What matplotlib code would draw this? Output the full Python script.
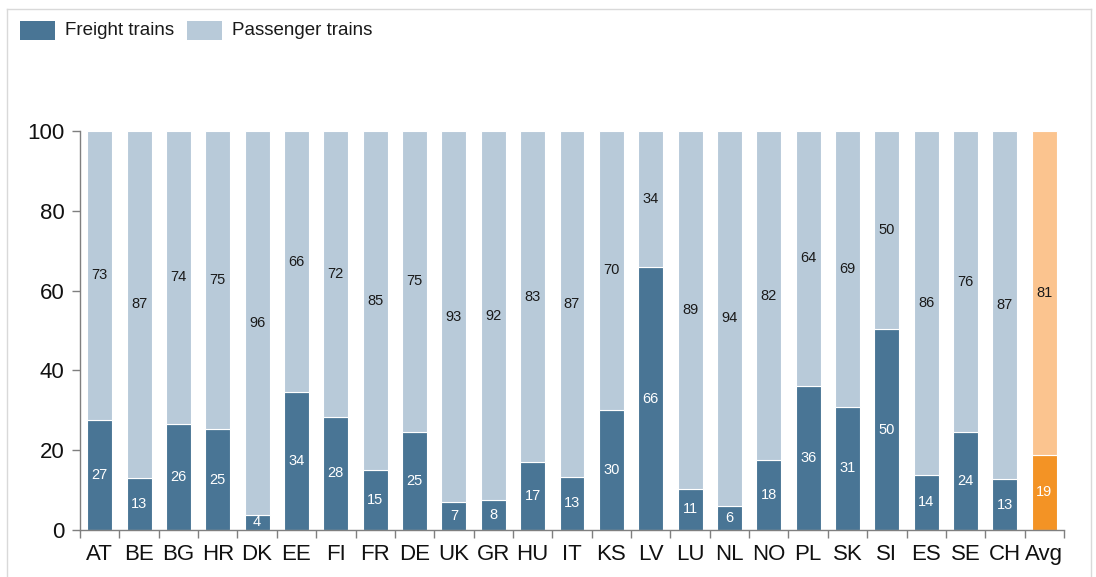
import matplotlib
matplotlib.use("Agg")
import matplotlib.pyplot as plt
from matplotlib.patches import Rectangle
from matplotlib.lines import Line2D
import numpy as np

# ---- data ----
categories = ["AT", "BE", "BG", "HR", "DK", "EE", "FI", "FR", "DE", "UK", "GR", "HU",
              "IT", "KS", "LV", "LU", "NL", "NO", "PL", "SK", "SI", "ES", "SE", "CH", "Avg"]
freight_share = [27.6, 13.1, 26.6, 25.3, 3.8, 34.5, 28.4, 15.0, 24.6, 6.9, 7.5, 17.0,
                 13.4, 30.2, 65.8, 10.4, 6.1, 17.5, 36.1, 30.9, 50.3, 13.8, 24.5, 12.7, 18.8]
freight_labels = [27, 13, 26, 25, 4, 34, 28, 15, 25, 7, 8, 17,
                  13, 30, 66, 11, 6, 18, 36, 31, 50, 14, 24, 13, 19]
passenger_labels = [73, 87, 74, 75, 96, 66, 72, 85, 75, 93, 92, 83,
                    87, 70, 34, 89, 94, 82, 64, 69, 50, 86, 76, 87, 81]
total_share = 100
series_names = ["Freight trains", "Passenger trains"]
y_ticks = [0, 20, 40, 60, 80, 100]

# ---- style ----
FREIGHT = "#497595"
PASSENGER = "#b8cad9"
AVG_FREIGHT = "#f39325"
AVG_PASSENGER = "#fbc48f"
plt.rcParams["font.family"] = ["Liberation Sans", "DejaVu Sans"]

W, H = 1096, 577
fig = plt.figure(figsize=(W / 100, H / 100), dpi=100)
fig.patch.set_facecolor("white")

ax = fig.add_axes([80 / W, 1 - 530 / H, (1064 - 80) / W, (530 - 131) / H])

x = np.arange(len(categories))
freight = np.array(freight_share)
passenger = total_share - freight
is_avg = np.array([c == "Avg" for c in categories])
fcols = [AVG_FREIGHT if a else FREIGHT for a in is_avg]
pcols = [AVG_PASSENGER if a else PASSENGER for a in is_avg]

bw = 0.635
ax.bar(x, freight, width=bw, color=fcols, edgecolor="white", linewidth=0.8, zorder=2)
ax.bar(x, passenger, bottom=freight, width=bw, color=pcols, edgecolor="white",
       linewidth=0.8, zorder=2)

for xi, f, p, fl, pl in zip(x, freight, passenger, freight_labels, passenger_labels):
    ax.text(xi, f / 2, str(fl), ha="center", va="center", color="white",
            fontsize=10.5, zorder=3)
    ax.text(xi, f + p / 2, str(pl), ha="center", va="center", color="#1a1a1a",
            fontsize=10.5, zorder=3)

ax.set_xlim(-0.5, len(categories) - 0.5)
ax.set_ylim(0, 100)
ax.set_yticks(y_ticks)
ax.tick_params(axis="y", labelsize=16, length=6, width=1, color="#7f7f7f",
               labelcolor="#111111", pad=5)
ax.set_xticks(x)
ax.set_xticklabels(categories)
ax.tick_params(axis="x", length=0, labelsize=16, pad=10, labelcolor="#111111")
ax.set_xticks(np.arange(len(categories) + 1) - 0.5, minor=True)
ax.tick_params(axis="x", which="minor", length=6, width=1, color="#7f7f7f")
for s in ["top", "right"]:
    ax.spines[s].set_visible(False)
for s in ["left", "bottom"]:
    ax.spines[s].set_color("#7f7f7f")
    ax.spines[s].set_linewidth(1)

# frame around figure
fig.add_artist(Line2D([7 / W, 7 / W], [0, 1 - 9 / H], transform=fig.transFigure,
                      color="#d9d9d9", lw=1))
fig.add_artist(Line2D([7 / W, 1091 / W], [1 - 9 / H, 1 - 9 / H], transform=fig.transFigure,
                      color="#d9d9d9", lw=1))
fig.add_artist(Line2D([1091 / W, 1091 / W], [0, 1 - 9 / H], transform=fig.transFigure,
                      color="#d9d9d9", lw=1))

# legend (manual)
leg = [(20, series_names[0], FREIGHT, 65), (187, series_names[1], PASSENGER, 232)]
for px, name, col, tx in leg:
    fig.add_artist(Rectangle((px / W, 1 - 40 / H), 35 / W, 19 / H,
                             transform=fig.transFigure, facecolor=col, edgecolor="none"))
    fig.text(tx / W, 1 - 30.5 / H, name, fontsize=13.5, va="center", ha="left",
             color="#1a1a1a")

fig.savefig("out.png", dpi=100, facecolor="white")
